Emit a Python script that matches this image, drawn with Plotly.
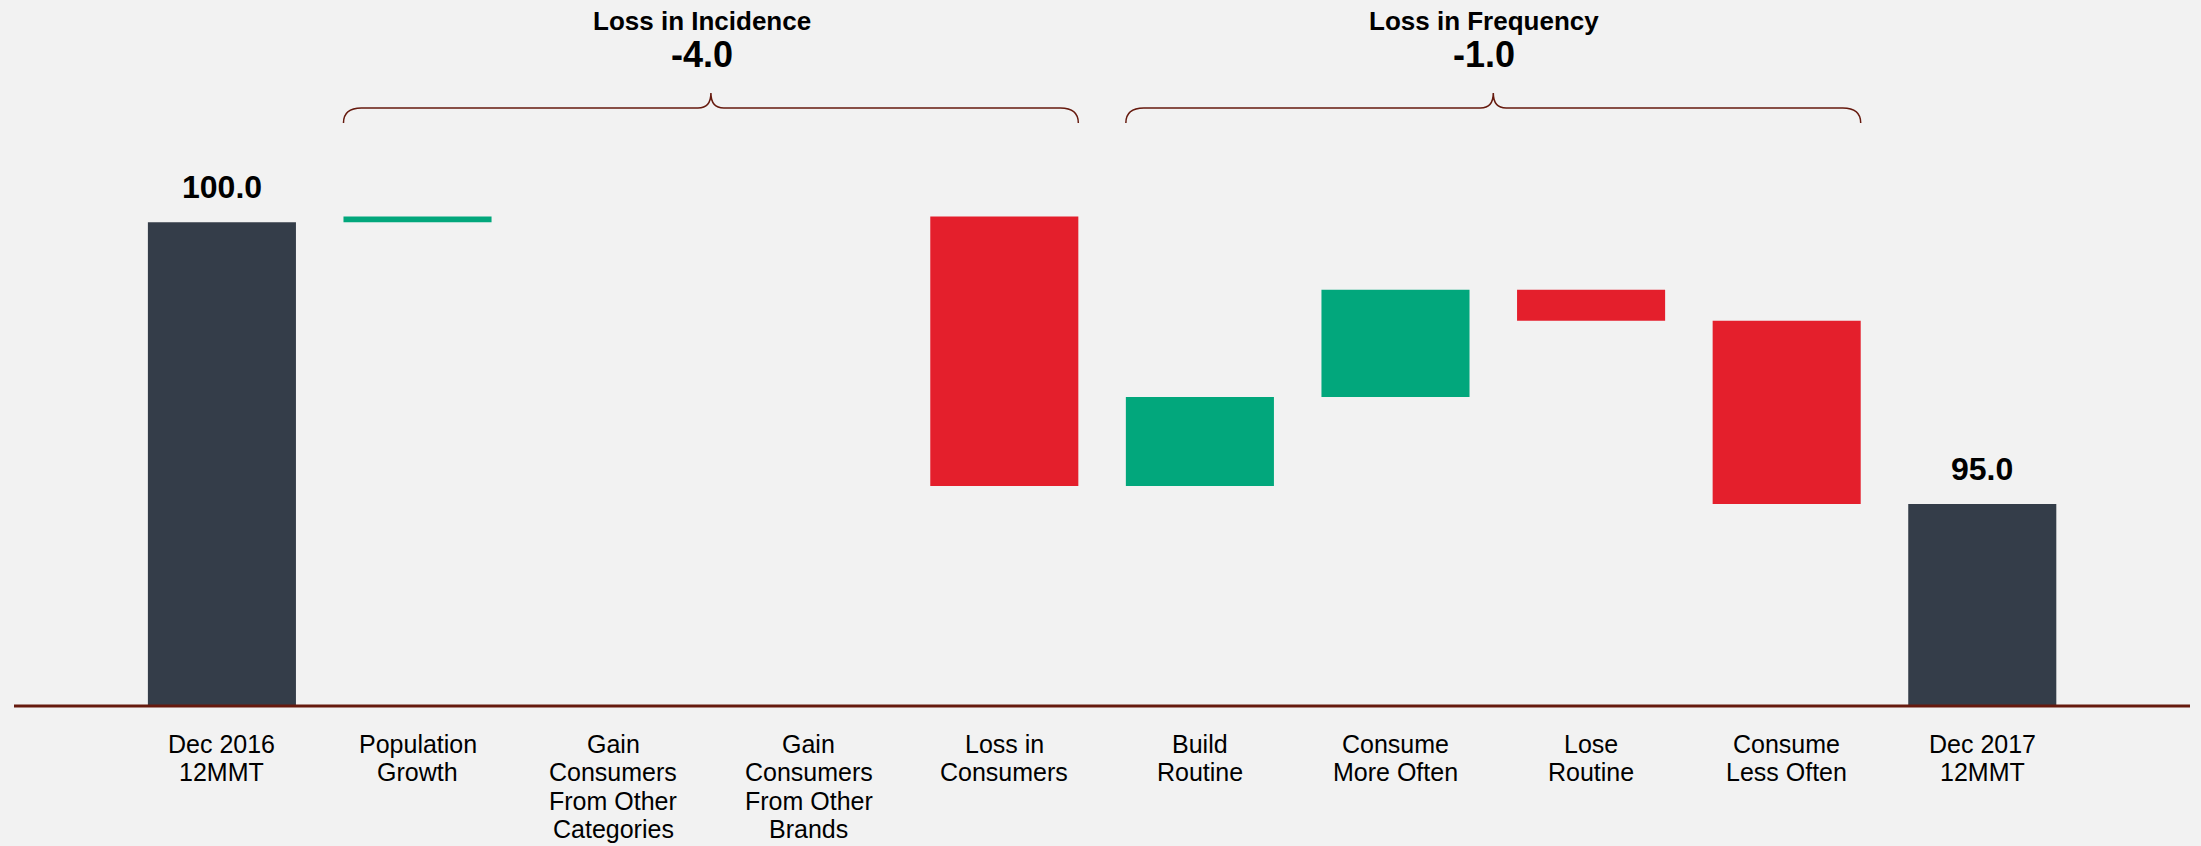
import plotly.graph_objects as go

# ---- data ----
categories = ["Dec 2016\n12MMT", "Population\nGrowth", "Gain\nConsumers\nFrom Other\nCategories",
              "Gain\nConsumers\nFrom Other\nBrands", "Loss in\nConsumers", "Build\nRoutine",
              "Consume\nMore Often", "Lose\nRoutine", "Consume\nLess Often", "Dec 2017\n12MMT"]
measures = ["absolute", "relative", "relative", "relative", "relative",
            "relative", "relative", "relative", "relative", "total"]
values = [100.0, 0.1, 0.0, 0.0, -4.78, 1.58, 1.9, -0.55, -3.25, 0.0]
group_titles = ["Loss in Incidence", "Loss in Frequency"]
group_values = ["-4.0", "-1.0"]
group_spans = [(1, 4), (5, 8)]

# ---- style ----
FONT = "Liberation Sans, Arial, Helvetica, sans-serif"
C_TOTAL = "#343d49"
C_UP = "#02a77c"
C_DOWN = "#e41f2c"
C_LINE = "#661a0e"
BG = "#f2f2f2"
W, H = 2201, 846
ML, MR, MT, MB = 14, 11, 0, 140
BARW = 0.757
XMIN, XMAX = -1.063, 10.062
YMIN, YMAX = 91.42, 103.94

x = list(range(len(categories)))
end_total = sum(values[:-1])
bar_labels = {0: f"{values[0]:.1f}", len(values) - 1: f"{end_total:.1f}"}

fig = go.Figure(go.Waterfall(
    x=x, y=values, measure=measures, width=BARW,
    increasing=dict(marker=dict(color=C_UP, line=dict(width=0))),
    decreasing=dict(marker=dict(color=C_DOWN, line=dict(width=0))),
    totals=dict(marker=dict(color=C_TOTAL, line=dict(width=0))),
    connector=dict(visible=False), hoverinfo="skip",
))

ann = []
# value labels above first/last bars
for i, txt in bar_labels.items():
    yv = values[0] if i == 0 else end_total
    ann.append(dict(x=i, y=yv, xref="x", yref="y", text=f"<b>{txt}</b>", showarrow=False,
                    yanchor="middle", yshift=35, font=dict(family=FONT, size=32, color="#000")))

# category labels, one annotation per line
for i, cat in enumerate(categories):
    for j, line in enumerate(cat.split("\n")):
        ann.append(dict(x=i, y=0, xref="x", yref="paper", text=line, showarrow=False,
                        yanchor="middle", yshift=-38 - 28.3 * j,
                        font=dict(family=FONT, size=25, color="#000")))

shapes = []
plot_h = H - MT - MB
px_per_unit = plot_h / (YMAX - YMIN)


def py_to_y(offset_px_from_top):
    return YMAX - offset_px_from_top / px_per_unit


y_line = py_to_y(108)
y_end = py_to_y(123)
y_tip = py_to_y(93)
r = 0.092
rc = 0.066
for (a, b), title, val in zip(group_spans, group_titles, group_values):
    x0 = a - BARW / 2
    x1 = b + BARW / 2
    xc = (a + b) / 2
    path = (f"M {x0},{y_end} Q {x0},{y_line} {x0 + r},{y_line} "
            f"L {xc - rc},{y_line} Q {xc},{y_line} {xc},{y_tip} "
            f"Q {xc},{y_line} {xc + rc},{y_line} "
            f"L {x1 - r},{y_line} Q {x1},{y_line} {x1},{y_end}")
    shapes.append(dict(type="path", path=path, xref="x", yref="y",
                       line=dict(color=C_LINE, width=1.5)))
    ann.append(dict(x=xc, y=1, xref="x", yref="paper", text=f"<b>{title}</b>", showarrow=False,
                    yanchor="middle", yshift=-21, xshift=-9,
                    font=dict(family=FONT, size=26, color="#000")))
    ann.append(dict(x=xc, y=1, xref="x", yref="paper", text=f"<b>{val}</b>", showarrow=False,
                    yanchor="middle", yshift=-54.5, xshift=-9,
                    font=dict(family=FONT, size=36, color="#000")))

# baseline
shapes.append(dict(type="line", xref="paper", yref="paper", x0=0, x1=1, y0=0, y1=0,
                   line=dict(color=C_LINE, width=3), layer="above"))

fig.update_layout(
    width=W, height=H, margin=dict(l=ML, r=MR, t=MT, b=MB),
    paper_bgcolor=BG, plot_bgcolor=BG, showlegend=False,
    xaxis=dict(range=[XMIN, XMAX], visible=False, fixedrange=True),
    yaxis=dict(range=[YMIN, YMAX], visible=False, fixedrange=True),
    annotations=ann, shapes=shapes,
)

fig.write_html("out.html", config={"displayModeBar": False})
